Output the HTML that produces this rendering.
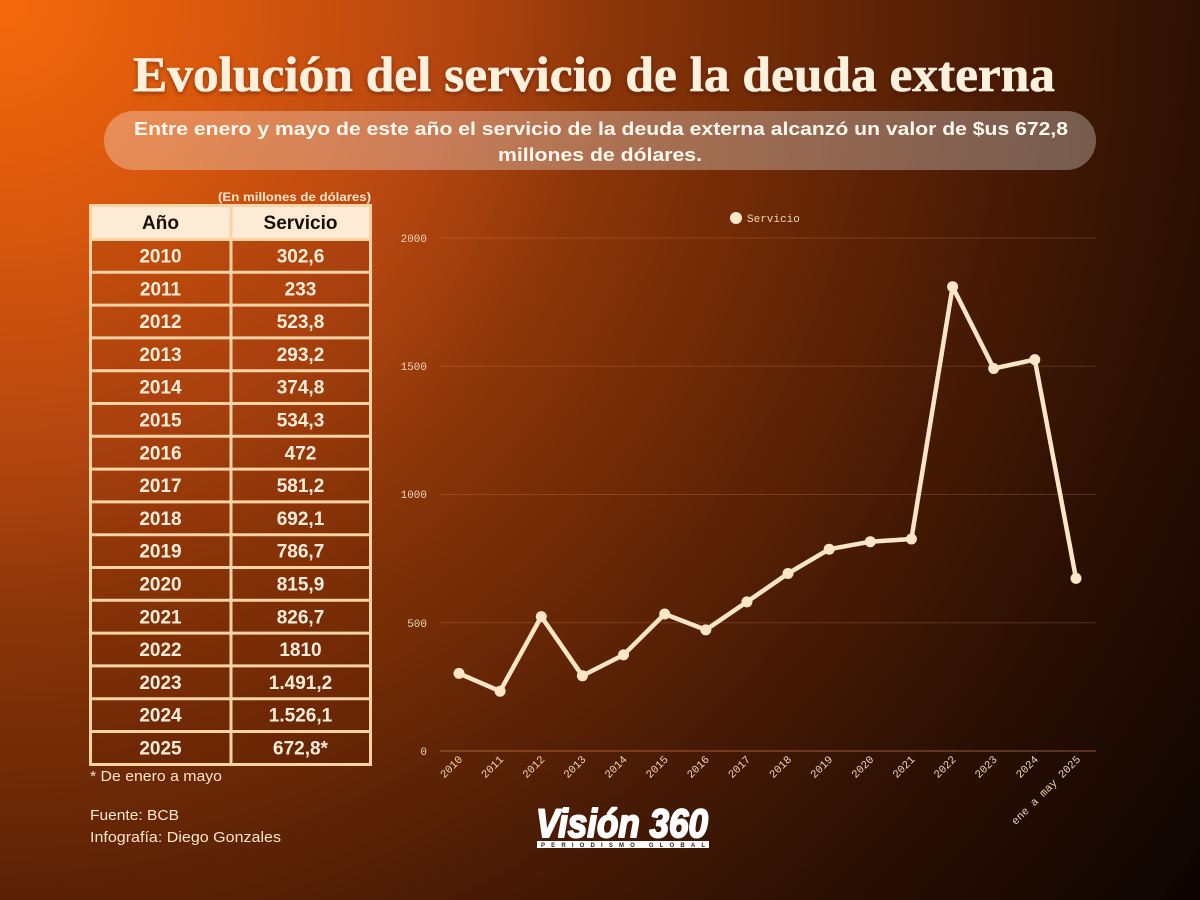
<!DOCTYPE html>
<html>
<head>
<meta charset="utf-8">
<style>
html,body{margin:0;padding:0;}
body{width:1200px;height:900px;overflow:hidden;
background:radial-gradient(circle at 0 0,#f56a0b 0px,#d9580d 220px,#b44610 450px,#8a3508 620px,#6f2a06 780px,#4a1b05 1000px,#2a0f03 1220px,#0e0502 1480px);}
svg{position:absolute;left:0;top:0;}
.mono{font-family:"Liberation Mono","DejaVu Sans Mono",monospace;}
.sans{font-family:"Liberation Sans","DejaVu Sans",sans-serif;}
.serif{font-family:"Liberation Serif","DejaVu Serif",serif;}
</style>
</head>
<body>
<svg width="1200" height="900" viewBox="0 0 1200 900" xmlns="http://www.w3.org/2000/svg">
<defs>
<filter id="sh" x="-5%" y="-20%" width="110%" height="140%">
<feDropShadow dx="0" dy="2" stdDeviation="2" flood-color="#3a1000" flood-opacity="0.5"/>
</filter>
</defs>

<!-- Title -->
<text class="serif" x="133" y="91" font-size="50" font-weight="bold" fill="#fdf0dc" stroke="#fdf0dc" stroke-width="0.6" textLength="922" lengthAdjust="spacingAndGlyphs" filter="url(#sh)">Evolución del servicio de la deuda externa</text>

<!-- Subtitle pill -->
<rect x="104" y="111" width="992" height="59" rx="29.5" fill="#ffffff" fill-opacity="0.3"/>
<text class="sans" x="134" y="135" font-size="18" font-weight="bold" fill="#fff8ef" textLength="934" lengthAdjust="spacingAndGlyphs">Entre enero y mayo de este año el servicio de la deuda externa alcanzó un valor de $us 672,8</text>
<text class="sans" x="498" y="161" font-size="18" font-weight="bold" fill="#fff8ef" textLength="204" lengthAdjust="spacingAndGlyphs">millones de dólares.</text>

<!-- Table -->
<text class="sans" x="218" y="201" font-size="12" font-weight="bold" fill="#fde6cc" textLength="153" lengthAdjust="spacingAndGlyphs">(En millones de dólares)</text>
<rect x="90" y="205" width="280" height="35" fill="#fdebd5"/>
<rect x="90" y="240" width="280" height="525" fill="#5a1a00" fill-opacity="0.12"/>
<g stroke="#f8d3a5" stroke-width="3" fill="none">
<rect x="90.5" y="205.5" width="280" height="559"/>
<line x1="231" y1="205" x2="231" y2="765"/>
<line x1="90" y1="239.5" x2="371" y2="239.5"/>
<line x1="90" y1="272.3" x2="371" y2="272.3"/>
<line x1="90" y1="305.1" x2="371" y2="305.1"/>
<line x1="90" y1="337.9" x2="371" y2="337.9"/>
<line x1="90" y1="370.7" x2="371" y2="370.7"/>
<line x1="90" y1="403.5" x2="371" y2="403.5"/>
<line x1="90" y1="436.3" x2="371" y2="436.3"/>
<line x1="90" y1="469.1" x2="371" y2="469.1"/>
<line x1="90" y1="501.9" x2="371" y2="501.9"/>
<line x1="90" y1="534.7" x2="371" y2="534.7"/>
<line x1="90" y1="567.5" x2="371" y2="567.5"/>
<line x1="90" y1="600.3" x2="371" y2="600.3"/>
<line x1="90" y1="633.1" x2="371" y2="633.1"/>
<line x1="90" y1="665.9" x2="371" y2="665.9"/>
<line x1="90" y1="698.7" x2="371" y2="698.7"/>
<line x1="90" y1="731.5" x2="371" y2="731.5"/>
</g>
<g class="sans" font-size="19" font-weight="bold" text-anchor="middle">
<text x="160.5" y="229" fill="#1a0e06">Año</text>
<text x="300.5" y="229" fill="#1a0e06">Servicio</text>
</g>
<g class="sans" font-size="19" font-weight="bold" text-anchor="middle" fill="#fdeedb">
<text x="160.5" y="262.5">2010</text><text x="300.5" y="262.5">302,6</text>
<text x="160.5" y="295.3">2011</text><text x="300.5" y="295.3">233</text>
<text x="160.5" y="328.1">2012</text><text x="300.5" y="328.1">523,8</text>
<text x="160.5" y="360.9">2013</text><text x="300.5" y="360.9">293,2</text>
<text x="160.5" y="393.7">2014</text><text x="300.5" y="393.7">374,8</text>
<text x="160.5" y="426.5">2015</text><text x="300.5" y="426.5">534,3</text>
<text x="160.5" y="459.3">2016</text><text x="300.5" y="459.3">472</text>
<text x="160.5" y="492.1">2017</text><text x="300.5" y="492.1">581,2</text>
<text x="160.5" y="524.9">2018</text><text x="300.5" y="524.9">692,1</text>
<text x="160.5" y="557.7">2019</text><text x="300.5" y="557.7">786,7</text>
<text x="160.5" y="590.5">2020</text><text x="300.5" y="590.5">815,9</text>
<text x="160.5" y="623.3">2021</text><text x="300.5" y="623.3">826,7</text>
<text x="160.5" y="656.1">2022</text><text x="300.5" y="656.1">1810</text>
<text x="160.5" y="688.9">2023</text><text x="300.5" y="688.9">1.491,2</text>
<text x="160.5" y="721.7">2024</text><text x="300.5" y="721.7">1.526,1</text>
<text x="160.5" y="754.5">2025</text><text x="300.5" y="754.5">672,8*</text>
</g>

<!-- Footnotes -->
<g class="sans" font-size="15" fill="#fde6cc">
<text x="90" y="781" textLength="132" lengthAdjust="spacingAndGlyphs">* De enero a mayo</text>
<text x="90" y="820" textLength="89" lengthAdjust="spacingAndGlyphs">Fuente: BCB</text>
<text x="90" y="842" textLength="191" lengthAdjust="spacingAndGlyphs">Infografía: Diego Gonzales</text>
</g>

<!-- Chart gridlines -->
<g stroke="#f0a070" stroke-opacity="0.22" stroke-width="1">
<line x1="440" y1="238" x2="1096" y2="238"/>
<line x1="440" y1="366.25" x2="1096" y2="366.25"/>
<line x1="440" y1="494.5" x2="1096" y2="494.5"/>
<line x1="440" y1="622.75" x2="1096" y2="622.75"/>
</g>
<line x1="440" y1="751" x2="1096" y2="751" stroke="#f0a070" stroke-opacity="0.35" stroke-width="1.5"/>

<!-- Y labels -->
<g class="mono" font-size="11" fill="#f3d6b8" text-anchor="end">
<text x="427" y="242">2000</text>
<text x="427" y="370">1500</text>
<text x="427" y="498">1000</text>
<text x="427" y="627">500</text>
<text x="427" y="755">0</text>
</g>

<!-- Legend -->
<circle cx="736" cy="218" r="6" fill="#fde8c8"/>
<text class="mono" x="747" y="222" font-size="11" fill="#f3d6b8">Servicio</text>

<!-- X labels -->
<g class="mono" font-size="11" fill="#f3d6b8" text-anchor="end">
<text transform="translate(463,760) rotate(-45)">2010</text>
<text transform="translate(504.1,760) rotate(-45)">2011</text>
<text transform="translate(545.3,760) rotate(-45)">2012</text>
<text transform="translate(586.4,760) rotate(-45)">2013</text>
<text transform="translate(627.5,760) rotate(-45)">2014</text>
<text transform="translate(668.7,760) rotate(-45)">2015</text>
<text transform="translate(709.8,760) rotate(-45)">2016</text>
<text transform="translate(750.9,760) rotate(-45)">2017</text>
<text transform="translate(792,760) rotate(-45)">2018</text>
<text transform="translate(833.2,760) rotate(-45)">2019</text>
<text transform="translate(874.3,760) rotate(-45)">2020</text>
<text transform="translate(915.4,760) rotate(-45)">2021</text>
<text transform="translate(956.6,760) rotate(-45)">2022</text>
<text transform="translate(997.7,760) rotate(-45)">2023</text>
<text transform="translate(1038.8,760) rotate(-45)">2024</text>
<text transform="translate(1081,760) rotate(-45)">ene a may 2025</text>
</g>

<!-- Series -->
<polyline fill="none" stroke="#fce6c6" stroke-width="4.5" stroke-linejoin="round" stroke-linecap="round"
points="459,673.4 500.1,691.2 541.3,616.6 582.4,675.8 623.5,654.9 664.7,614 705.8,629.9 746.9,601.9 788,573.5 829.2,549.2 870.3,541.7 911.4,539 952.6,286.7 993.7,368.5 1034.8,359.6 1076,578.4"/>
<g fill="#fce6c6">
<circle cx="459" cy="673.4" r="5.5"/>
<circle cx="500.1" cy="691.2" r="5.5"/>
<circle cx="541.3" cy="616.6" r="5.5"/>
<circle cx="582.4" cy="675.8" r="5.5"/>
<circle cx="623.5" cy="654.9" r="5.5"/>
<circle cx="664.7" cy="614" r="5.5"/>
<circle cx="705.8" cy="629.9" r="5.5"/>
<circle cx="746.9" cy="601.9" r="5.5"/>
<circle cx="788" cy="573.5" r="5.5"/>
<circle cx="829.2" cy="549.2" r="5.5"/>
<circle cx="870.3" cy="541.7" r="5.5"/>
<circle cx="911.4" cy="539" r="5.5"/>
<circle cx="952.6" cy="286.7" r="5.5"/>
<circle cx="993.7" cy="368.5" r="5.5"/>
<circle cx="1034.8" cy="359.6" r="5.5"/>
<circle cx="1076" cy="578.4" r="5.5"/>
</g>

<!-- Logo -->
<text class="sans" x="536" y="837" font-size="40" font-weight="bold" font-style="italic" fill="#ffffff" stroke="#ffffff" stroke-width="2" stroke-linejoin="round" textLength="172" lengthAdjust="spacingAndGlyphs">Visión 360</text>
<rect x="537" y="841" width="172" height="7" fill="#ffffff"/>
<text class="sans" x="541" y="847" font-size="6" font-weight="bold" fill="#3a1a0a" textLength="164" lengthAdjust="spacing">PERIODISMO  GLOBAL</text>
</svg>
</body>
</html>
